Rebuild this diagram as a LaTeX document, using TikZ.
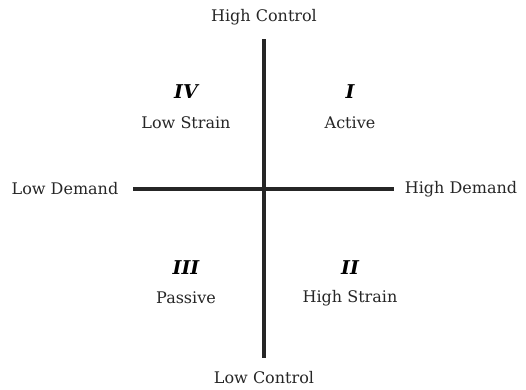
\documentclass[tikz,border=0pt]{standalone}
\usepackage{fontspec}
\setmainfont{DejaVu Serif}
\begin{document}
\begin{tikzpicture}[x=1pt,y=-1pt,
  lbl/.style={font=\fontsize{16}{18}\selectfont, text=black!85, inner sep=0pt},
  num/.style={font=\fontsize{19}{21}\selectfont\itshape\bfseries, inner sep=0pt},
  axis/.style={line width=3.2pt, black!85}]
\useasboundingbox (0,0) rectangle (526,389);
\coordinate (vt) at (264,39);
\coordinate (vb) at (264,358);
\coordinate (hl) at (133,189);
\coordinate (hr) at (394,189);
\draw[axis] (vt) -- (vb);
\draw[axis] (hl) -- (hr);
\node[lbl] (hc) at (264,17) {High Control};
\node[lbl] (lc) at (264,378) {Low Control};
\node[lbl] (ld) at (65,189) {Low Demand};
\node[lbl] (hd) at (461,189) {High Demand};
\node[num] (n4) at (186,92) {IV};
\node[lbl] (t4) at (186,123) {Low Strain};
\node[num] (n1) at (350,92) {I};
\node[lbl] (t1) at (350,123) {Active};
\node[num] (n3) at (186,268) {III};
\node[lbl] (t3) at (186,298) {Passive};
\node[num] (n2) at (350,268) {II};
\node[lbl] (t2) at (350,298) {High Strain};
\end{tikzpicture}
\end{document}
